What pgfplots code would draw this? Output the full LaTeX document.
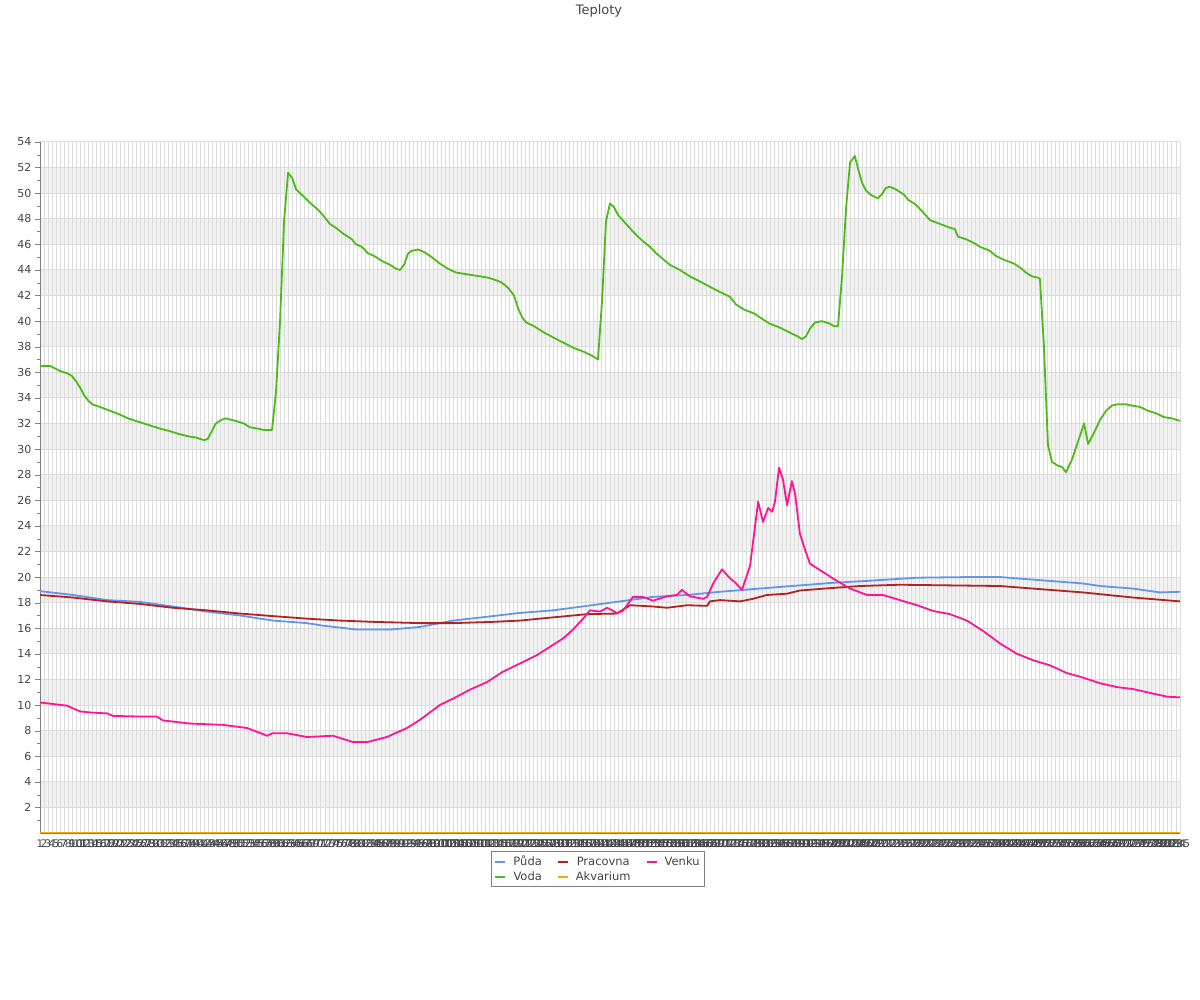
\documentclass[border=0pt]{standalone}
\usepackage{pgfplots}
\pgfplotsset{compat=1.18}
\usepackage{fontspec}
\setmainfont{DejaVu Sans}
\definecolor{puda}{HTML}{6495ED}
\definecolor{pracovna}{HTML}{B22222}
\definecolor{venku}{HTML}{FF1493}
\definecolor{voda}{HTML}{4CBB17}
\definecolor{akvarium}{HTML}{FFA500}
\definecolor{band}{HTML}{F2F2F2}
\definecolor{gridc}{HTML}{DCDCDC}
\definecolor{txt}{HTML}{444444}
\begin{document}
\begin{tikzpicture}
\begin{axis}[
  at={(40pt,167pt)}, anchor=south west,
  width=1140pt, height=691pt, scale only axis,
  set layers,
  xmin=1, xmax=285, ymin=0, ymax=54,
  axis x line*=bottom, axis y line*=left,
  axis line style={draw=gray, -},
  xtick={1,...,285},
  ytick={2,4,...,54},
  minor ytick={1,3,...,53},
  tick align=outside,
  major tick length=5pt, minor tick length=3pt,
  ytick style={gray},
  xtick style={draw=none},
  xmajorgrids, ymajorgrids,
  grid style={gridc, line width=1pt},
  /pgf/number format/assume math mode=true,
  yticklabel style={font=\fontsize{11}{13}\selectfont, text=txt},
  xticklabel style={font=\fontsize{10.5}{12}\selectfont, text=txt, inner sep=2pt},
  legend style={at={(axis description cs:0.4895,-0.026)}, anchor=north, draw=gray,
    font=\fontsize{11.5}{13}\selectfont, text=txt, inner sep=3pt,
    /tikz/every odd column/.append style={column sep=5pt},
    /tikz/every even column/.append style={column sep=13pt},
    row sep=0pt},
  legend columns=3,
  legend image code/.code={\draw[#1, line width=2pt] (0pt,0pt) -- (10pt,0pt);},
  every axis plot/.append style={line width=1.8pt, line join=round},
]
\begin{pgfonlayer}{axis background}
\fill[band] (axis cs:1,2) rectangle (axis cs:285,4);
\fill[band] (axis cs:1,6) rectangle (axis cs:285,8);
\fill[band] (axis cs:1,10) rectangle (axis cs:285,12);
\fill[band] (axis cs:1,14) rectangle (axis cs:285,16);
\fill[band] (axis cs:1,18) rectangle (axis cs:285,20);
\fill[band] (axis cs:1,22) rectangle (axis cs:285,24);
\fill[band] (axis cs:1,26) rectangle (axis cs:285,28);
\fill[band] (axis cs:1,30) rectangle (axis cs:285,32);
\fill[band] (axis cs:1,34) rectangle (axis cs:285,36);
\fill[band] (axis cs:1,38) rectangle (axis cs:285,40);
\fill[band] (axis cs:1,42) rectangle (axis cs:285,44);
\fill[band] (axis cs:1,46) rectangle (axis cs:285,48);
\fill[band] (axis cs:1,50) rectangle (axis cs:285,52);
\end{pgfonlayer}

% Puda
\addplot[puda] coordinates {
(1,18.9) (9.2,18.6) (17.7,18.2) (25.9,18.06) (34.1,17.7) (42.6,17.3) (50.8,17.0)
(59.0,16.6) (67.5,16.4) (71.5,16.2) (80.0,15.9) (88.2,15.9) (95.7,16.1)
(103.9,16.6) (112.4,16.9) (120.6,17.2) (128.8,17.4) (137.3,17.75) (145.5,18.1)
(153.7,18.45) (162.2,18.6) (170.4,18.85) (178.6,19.06) (190.3,19.35) (198.5,19.55)
(207.0,19.7) (219.5,19.95) (231.9,20.0) (240.2,20.0) (248.4,19.8) (260.8,19.5)
(265.1,19.3) (273.3,19.1) (280.0,18.8) (285,18.85)
};
\addlegendentry{Půda}
% Pracovna
\addplot[pracovna] coordinates {
(1,18.6) (9.2,18.4) (17.7,18.1) (25.9,17.9) (34.1,17.6) (42.6,17.4) (50.8,17.15)
(59.0,16.95) (67.5,16.75) (75.7,16.6) (84.0,16.5) (95.7,16.4) (103.9,16.4)
(113.9,16.5) (120.6,16.6) (128.8,16.85) (137.3,17.1) (144.7,17.15) (148.0,17.8)
(153.7,17.7) (157.2,17.6) (162.2,17.8) (167.2,17.75) (167.9,18.1) (170.4,18.2)
(175.4,18.1) (178.6,18.3) (182.1,18.6) (187.1,18.7) (190.3,18.95) (198.5,19.15)
(205.3,19.3) (215.2,19.4) (240.2,19.3) (248.4,19.1) (260.8,18.8) (273.3,18.4)
(285,18.1)
};
\addlegendentry{Pracovna}
% Venku
\addplot[venku] coordinates {
(1,10.2) (7.7,9.95) (11.0,9.5) (14.2,9.4) (17.7,9.35) (19.2,9.15) (25.9,9.1)
(30.1,9.1) (31.6,8.8) (38.4,8.55) (42.6,8.5) (46.6,8.45) (52.6,8.2) (57.6,7.6)
(59.0,7.8) (62.5,7.8) (67.5,7.5) (74.0,7.6) (79.0,7.1) (82.5,7.1) (87.4,7.5)
(92.4,8.2) (95.7,8.85) (100.6,10.0) (103.9,10.5) (108.1,11.2) (112.4,11.8)
(116.3,12.6) (120.6,13.25) (124.8,13.9) (128.8,14.7) (131.3,15.2) (133.8,15.9)
(136.3,16.75) (138.0,17.4) (140.5,17.3) (142.3,17.6) (144.7,17.2) (146.2,17.35)
(148.7,18.45) (151.2,18.45) (153.7,18.15) (157.2,18.5) (159.7,18.6) (160.9,19.0)
(162.9,18.5) (166.2,18.3) (167.2,18.45) (168.7,19.5) (170.9,20.6) (172.9,19.9)
(174.1,19.6) (175.9,19.0) (177.9,20.9) (179.9,25.9) (181.1,24.3) (182.4,25.4)
(183.4,25.1) (184.1,25.9) (185.1,28.55) (186.1,27.6) (187.1,25.6) (188.3,27.5)
(189.1,26.5) (190.3,23.4) (191.3,22.4) (192.8,21.05) (198.5,19.9) (202.8,19.1)
(207.0,18.6) (211.0,18.6) (215.2,18.2) (219.5,17.8) (223.5,17.35) (227.7,17.1)
(231.9,16.6) (235.9,15.8) (240.2,14.8) (244.4,14.0) (248.4,13.5) (252.6,13.1)
(256.8,12.5) (260.8,12.15) (265.1,11.7) (269.3,11.4) (273.3,11.25) (277.5,10.95)
(281.8,10.65) (285,10.6)
};
\addlegendentry{Venku}
% Voda
\addplot[voda] coordinates {
(1,36.5) (3.5,36.5) (6.0,36.1) (8.0,35.9) (9.0,35.7) (10.0,35.3) (11.0,34.8)
(12.0,34.2) (13.0,33.8) (14.0,33.5) (15.9,33.3) (18.4,33.0) (20.9,32.7)
(22.9,32.4) (24.9,32.2) (26.9,32.0) (28.9,31.8) (30.9,31.6) (33.4,31.4)
(35.4,31.2) (37.9,31.0) (39.9,30.9) (41.9,30.7) (42.8,30.8) (43.8,31.4)
(44.8,32.0) (46.3,32.3) (47.3,32.4) (49.8,32.2) (51.8,32.0) (53.3,31.7)
(55.3,31.6) (56.8,31.5) (58.8,31.5) (59.8,34.5) (60.8,40.0) (61.8,47.8)
(62.8,51.6) (63.8,51.2) (64.8,50.3) (66.8,49.7) (68.8,49.1) (70.3,48.7)
(71.7,48.2) (73.2,47.6) (74.7,47.3) (76.7,46.8) (78.7,46.4) (79.7,46.0)
(81.2,45.8) (82.7,45.3) (84.2,45.1) (86.2,44.7) (88.2,44.4) (89.7,44.1)
(90.7,44.0) (91.7,44.4) (92.7,45.3) (93.7,45.5) (95.2,45.6) (96.7,45.4)
(98.6,45.0) (100.6,44.5) (102.6,44.1) (104.6,43.8) (106.6,43.7) (108.6,43.6)
(110.6,43.5) (112.6,43.4) (114.6,43.2) (116.1,43.0) (117.6,42.6) (119.1,42.0)
(120.1,41.0) (121.1,40.3) (122.1,39.9) (124.1,39.6) (126.6,39.1) (129.0,38.7)
(131.5,38.3) (134.0,37.9) (136.5,37.6) (138.5,37.3) (140.0,37.0) (141.0,41.5)
(142.0,47.8) (143.0,49.2) (144.0,48.9) (145.0,48.3) (147.0,47.6) (149.0,46.9)
(151.0,46.3) (153.0,45.8) (154.5,45.3) (156.4,44.8) (157.9,44.4) (160.4,44.0)
(162.9,43.5) (165.4,43.1) (168.4,42.6) (170.9,42.2) (172.9,41.9) (174.4,41.3)
(176.4,40.9) (178.9,40.6) (180.8,40.2) (182.8,39.8) (185.3,39.5) (187.8,39.1)
(189.8,38.8) (190.8,38.6) (191.8,38.8) (192.8,39.4) (194.1,39.9) (195.8,40.0)
(197.8,39.8) (198.8,39.6) (199.8,39.6) (200.8,43.5) (201.8,48.8) (202.8,52.4)
(204.0,52.9) (204.8,51.9) (205.8,50.8) (206.8,50.2) (207.8,49.9) (209.7,49.6)
(210.7,49.9) (211.7,50.4) (212.7,50.5) (214.2,50.3) (216.2,49.9) (217.2,49.5)
(219.2,49.1) (220.7,48.6) (222.7,47.9) (225.2,47.6) (227.7,47.3) (228.9,47.2)
(229.7,46.6) (231.7,46.4) (233.7,46.1) (235.2,45.8) (237.6,45.5) (239.1,45.1)
(241.1,44.8) (243.6,44.5) (245.1,44.2) (246.6,43.8) (248.1,43.5) (249.6,43.4)
(250.1,43.3) (251.1,38.0) (252.1,30.3) (253.1,29.0) (254.6,28.7) (255.6,28.6)
(256.6,28.2) (258.1,29.2) (259.6,30.6) (261.1,32.0) (262.1,30.4) (263.6,31.3)
(265.1,32.3) (266.6,33.0) (268.0,33.4) (269.5,33.5) (271.5,33.5) (273.0,33.4)
(275.0,33.3) (277.0,33.0) (279.0,32.8) (281.0,32.5) (283.0,32.4) (285,32.2)
};
\addlegendentry{Voda}
% Akvarium
\addplot[akvarium] coordinates {(1,0) (285,0)};
\addlegendentry{Akvarium}
\end{axis}
\node[font=\fontsize{13}{15}\selectfont, text=txt] at (599pt,989pt) {Teploty};
\path (0pt,0pt) rectangle (1200pt,1000pt);
\end{tikzpicture}
\end{document}
